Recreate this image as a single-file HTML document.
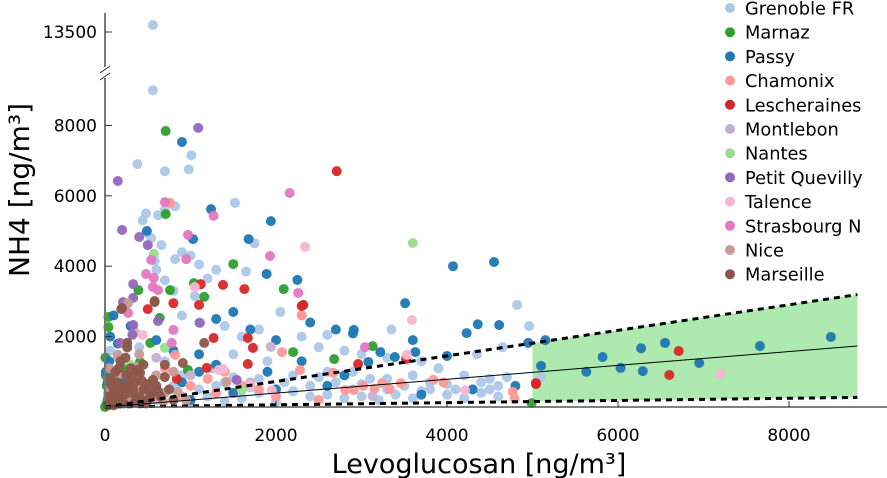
<!DOCTYPE html>
<html><head><meta charset="utf-8"><style>
body{margin:0;background:#fff;}
svg{display:block;font-family:"DejaVu Sans","Liberation Sans",sans-serif;}
</style></head><body>
<svg id="chart" width="887" height="478" viewBox="0 0 887 478" xmlns="http://www.w3.org/2000/svg"></svg>
<script>
const seriesNames=["Grenoble FR","Marnaz","Passy","Chamonix","Lescheraines","Montlebon","Nantes","Petit Quevilly","Talence","Strasbourg N","Nice","Marseille"];
const seriesColors=["#aec7e8","#2ca02c","#1f77b4","#ff9896","#d62728","#c5b0d5","#98df8a","#9467bd","#f7b6d2","#e377c2","#c49c94","#8c564b"];
const xTicks=[0,2000,4000,6000,8000];
const yTicks=[2000,4000,6000,8000];
const yTicksTop=[13500];
const fitSlope=0.197, upperSlope=0.363, lowerSlope=0.031, bandStart=5000, bandEnd=8800;
const grenoble=[[560,13700],[560,9000],[380,6900],[1010,7150],[980,6750],[700,6700],[820,5700],[480,5500],[620,5450],[700,5600],[440,5300],[1520,5800],[1650,3850],[1750,4650],[480,4950],[540,4800],[900,4400],[660,4600],[820,4200],[1000,4300],[1100,4050],[580,4150],[600,3900],[700,3600],[800,3300],[1200,3650],[1300,3900],[1050,3150],[900,2600],[1100,2400],[1400,2300],[1600,2000],[1800,2200],[2050,2700],[2300,2000],[2500,1700],[2800,1600],[3000,1500],[3300,1400],[3700,1300],[3900,1100],[4350,1500],[4650,1700],[4820,2900],[4960,2300],[5100,850],[3350,2200],[2600,2050],[1900,1300],[1500,1500],[1250,1100],[700,1300],[400,1700],[300,1000],[150,1400],[60,1600],[2200,900],[2700,700],[3100,800],[3500,600],[4000,650],[4500,500],[1800,800],[1400,700],[2400,300],[3000,300],[3600,900],[4200,900],[4400,700],[4600,600],[1100,500],[900,900],[2900,1000],[3800,500],[3300,500],[2600,1000],
[1000,150],[1200,300],[1400,150],[1600,250],[1800,400],[2000,150],[2200,450],[2400,600],[2600,350],[2800,250],[3000,650],[3200,200],[3400,350],[3600,250],[3800,700],[4000,350],[4200,250],[4400,400],[4600,300],[4700,850],[1300,600],[1700,550],[2100,700],[2500,850],[2900,500],[3300,800],[3700,450],[4100,500],[4500,800],[800,600],[600,200],[1500,850]];
const marnaz=[[710,7840],[710,5480],[1500,4060],[390,3320],[760,3320],[1160,3130],[2090,3350],[1040,3520],[40,2270],[40,2560],[640,2530],[530,1820],[2200,1560],[2680,1360],[970,1050],[410,1280],[200,1110],[3130,1730],[4990,110],[30,200],[60,60],[20,600],[100,300],[10,900],[0,0],[20,100],[40,400],[5,1400]];
const passy=[[900,7530],[1240,5620],[1940,5280],[1680,4770],[1030,4770],[490,5000],[1890,3780],[2250,3610],[4070,4000],[4550,4120],[3510,2950],[4360,2350],[4610,2330],[4230,2100],[3600,1900],[2910,2190],[2900,2090],[3220,1560],[3080,1280],[3390,1420],[3630,1560],[4000,1450],[5150,1900],[5100,1170],[4950,1820],[5630,1000],[5820,1420],[6030,1110],[6290,1020],[6270,1670],[6550,1820],[6950,1250],[7660,1730],[8490,1990],[1300,2500],[1500,2700],[1700,2200],[2000,1900],[2400,2400],[2700,2200],[1100,1500],[800,1600],[600,1900],[300,2300],[100,2600],[50,1300],[200,700],[1300,1200],[1900,1000],[2300,1300],[2800,900],[500,300],[1000,200],[1500,400],[2000,500],[2600,600],[4800,600],[4300,500],[3700,350],[10,1000],[30,700],[60,2000],[150,1800],[900,700],[1100,1000]];
const chamonix=[[2300,2610],[2070,1560],[820,1480],[2280,1050],[2670,970],[2810,480],[2910,480],[3020,600],[3150,510],[3240,680],[3330,510],[3460,680],[3840,770],[3960,700],[4770,430],[4790,230],[760,5800],[2300,2600],[300,900],[500,600],[1200,800],[1600,600],[2000,300],[2500,200],[150,400],[900,300],[1400,1000],[700,1100],[100,600],[250,200],[400,500],[600,300],[1000,600],[1300,400],[1800,500]];
const lescheraines=[[2710,6700],[1380,3470],[1630,3350],[1120,3490],[2320,2900],[1100,2900],[800,2950],[500,2780],[2960,1220],[3520,1360],[5040,680],[2300,2870],[1670,1960],[1730,1680],[1670,1220],[1270,1960],[1190,1110],[840,800],[6710,1590],[6600,910],[5040,650]];
const montlebon=[[3130,310],[1940,1710],[350,2130],[600,1400],[1000,900],[200,500],[1700,700],[400,100]];
const nantes=[[3600,4660],[570,4350],[700,1680],[1600,480],[300,1200]];
const quevilly=[[1090,7930],[150,6420],[200,5030],[400,4830],[500,4600],[330,3490],[330,3100],[210,2980],[330,2330],[620,2440],[1110,2390],[320,2050],[180,1820],[1540,770]];
const talence=[[2340,4550],[1050,3410],[3590,2470],[3530,1480],[4210,480],[1380,1080],[1330,1050],[440,2050],[1700,620],[1950,480],[7200,940]];
const strasbourg=[[700,5820],[1270,5430],[970,4890],[2160,6080],[950,4200],[540,4180],[1930,4290],[480,3780],[570,3670],[560,3410],[620,3320],[2260,3240],[800,2190],[780,1820],[270,2670],[3040,1700],[370,850]];
const nice=[[270,2950],[150,1480],[530,570],[850,430],[1420,710],[370,1140],[100,800],[200,300],[300,600],[450,200],[600,900],[700,400],[50,1100],[250,1800],[400,1500],[120,100],[800,1000],[950,200],[350,350],[80,300],[180,500],[280,250],[380,800],[480,400],[580,650],[680,150],[150,900],[60,500]];
const marseille=[[580,3010],[190,2780],[580,2980],[200,2810],[1160,1820],[910,1250],[700,850],[260,1820],[260,1690],[410,970],[560,770],[100,400],[150,200],[200,600],[250,900],[300,400],[350,700],[400,300],[450,500],[500,200],[550,400],[50,150],[80,600],[120,1000],[180,1300],[300,1100],[450,1200],[600,600],[650,300],[750,500],[800,200],[30,50],[100,50],[220,100],[350,150],[700,1200],[120,250],[170,450],[230,350],[280,650],[330,500],[380,250],[430,750],[480,100],[530,300],[620,450],[40,300],[90,150],[140,700],[200,150],[260,550],[320,850],[500,650],[160,1100],[240,1400],[380,1050],[60,800]];
const allSeries=[grenoble,marnaz,passy,chamonix,lescheraines,montlebon,nantes,quevilly,talence,strasbourg,nice,marseille];

const NS="http://www.w3.org/2000/svg";
const svg=document.getElementById('chart');
const X0=105, XS=0.0855, Y0=407, YS=0.0352;
function xs(v){return X0+v*XS;}
function ys(v){return v>10000? 32-(v-13500)*YS : Y0-v*YS;}
function mk(tag,attrs,parent){const e=document.createElementNS(NS,tag);for(const k in attrs)e.setAttribute(k,attrs[k]);(parent||svg).appendChild(e);return e;}

const band=mk('polygon',{points:`${xs(bandStart)},${ys(bandStart*upperSlope)} ${xs(bandEnd)},${ys(bandEnd*upperSlope)} ${xs(bandEnd)},${ys(bandEnd*lowerSlope)} ${xs(bandStart)},${ys(bandStart*lowerSlope)}`,fill:"#aee9b0"});



const pg=mk('g',{});


allSeries.forEach((s,i)=>{s.forEach(p=>{
  const c=mk('circle',{cx:xs(p[0]),cy:ys(p[1]),r:5,fill:seriesColors[i],'fill-opacity':0.95},pg);
  
  
});});

const fit=mk('line',{x1:xs(0),y1:ys(0),x2:xs(bandEnd),y2:ys(bandEnd*fitSlope),stroke:"#000","stroke-width":1});


const up=mk('line',{x1:xs(0),y1:ys(0),x2:xs(bandEnd),y2:ys(bandEnd*upperSlope),stroke:"#000","stroke-width":3,"stroke-dasharray":"6,5"});


const lo=mk('line',{x1:xs(0),y1:ys(0),x2:xs(bandEnd),y2:ys(bandEnd*lowerSlope),stroke:"#000","stroke-width":3,"stroke-dasharray":"6,5"});



const ax=mk('line',{x1:X0,y1:Y0,x2:887,y2:Y0,stroke:"#555","stroke-width":1.5});


const ay=mk('line',{x1:X0,y1:Y0,x2:X0,y2:78,stroke:"#777","stroke-width":2});


const ay2=mk('line',{x1:X0,y1:67,x2:X0,y2:13,stroke:"#777","stroke-width":2});


const br1=mk('line',{x1:X0-5,y1:73,x2:X0+5,y2:66,stroke:"#333","stroke-width":1});


const br2=mk('line',{x1:X0-5,y1:80,x2:X0+5,y2:73,stroke:"#333","stroke-width":1});



xTicks.forEach(t=>{
  const l=mk('line',{x1:xs(t),y1:Y0,x2:xs(t),y2:Y0-6,stroke:"#333","stroke-width":1});
  
  
  const tx=mk('text',{x:xs(t),y:441,'font-size':17,'text-anchor':'middle',fill:'#000'});
  tx.textContent=t;
  
  
});
yTicks.concat(yTicksTop).forEach(t=>{
  const l=mk('line',{x1:X0,y1:ys(t),x2:X0+7,y2:ys(t),stroke:"#333","stroke-width":1});
  
  
  const tx=mk('text',{x:97,y:ys(t)+6,'font-size':17,'text-anchor':'end',fill:'#000'});
  tx.textContent=t;
  
  
});

const xt=mk('text',{x:479,y:473,'font-size':27,'text-anchor':'middle',fill:'#000'});
xt.textContent="Levoglucosan [ng/m³]";


const yt=mk('text',{x:0,y:0,'font-size':28,'text-anchor':'middle',fill:'#000',transform:'translate(29,190) rotate(-90)'});
yt.textContent="NH4 [ng/m³]";



const lg=mk('g',{});


seriesNames.forEach((n,i)=>{
  const y=8+i*24.2;
  const g=mk('g',{},lg);
  
  
  mk('circle',{cx:730,cy:y,r:5,fill:seriesColors[i]},g);
  const t=mk('text',{x:745,y:y+6.5,'font-size':17.8,fill:'#000'},g);
  t.textContent=n;
});
</script>
</body></html>
